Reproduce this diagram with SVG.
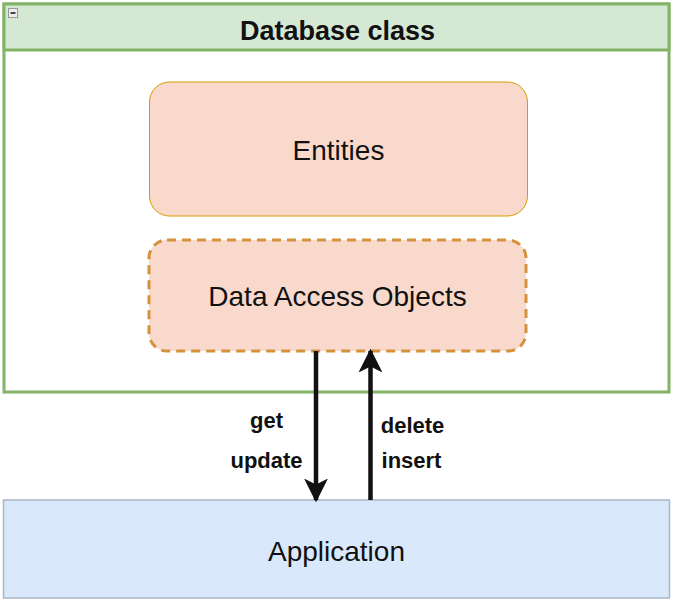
<svg xmlns="http://www.w3.org/2000/svg" width="673" height="603" viewBox="0 0 673 603">
<defs>
<style>
.t{font-family:"Liberation Sans",Arial,sans-serif;fill:#111;text-anchor:middle}
.big{font-size:28px}
.lbl{font-size:22px;font-weight:bold}
.conn{stroke:#111;stroke-width:4.5;fill:none}
</style>
<marker id="ah" viewBox="0 0 10 10" refX="9" refY="5" markerWidth="5.3" markerHeight="5.3" markerUnits="strokeWidth" orient="auto">
<path d="M0,0 L10,5 L0,10 L2.5,5 Z" fill="#111"/>
</marker>
</defs>
<rect width="673" height="603" fill="#fff"/>
<g id="database-class">
<rect x="4" y="4" width="665" height="388" fill="#fff" stroke="#82b366" stroke-width="3"/>
<rect x="4" y="4" width="665" height="46" fill="#d5e8d4" stroke="#82b366" stroke-width="3"/>
<rect x="8.5" y="8.5" width="9" height="9" fill="#eee" stroke="#999" stroke-width="1"/>
<line x1="10.5" y1="13" x2="15.5" y2="13" stroke="#111" stroke-width="1.5"/>
<text class="t" x="337.5" y="40" font-size="27" font-weight="bold">Database class</text>
</g>
<g id="entities">
<rect x="149.5" y="82" width="378" height="134" rx="20" fill="#fad9cd" stroke="#d79b00" stroke-width="1"/>
<text class="t big" x="338.5" y="160">Entities</text>
</g>
<g id="dao">
<rect x="149" y="240" width="377" height="111" rx="18" fill="#fad9cd" stroke="#d6913c" stroke-width="3" stroke-dasharray="9 6"/>
<text class="t big" x="337.5" y="306">Data Access Objects</text>
</g>
<g id="application">
<rect x="3.5" y="500" width="666" height="98" fill="#dae8fc" stroke="#a9b7c6" stroke-width="1.5"/>
<text class="t big" x="336.5" y="561">Application</text>
</g>
<g id="connectors">
<line class="conn" x1="316" y1="351" x2="316" y2="500" marker-end="url(#ah)"/>
<line class="conn" x1="370.5" y1="500" x2="370.5" y2="351" marker-end="url(#ah)"/>
<text class="t lbl" x="266.5" y="428">get</text>
<text class="t lbl" x="266.5" y="468">update</text>
<text class="t lbl" x="412.5" y="433">delete</text>
<text class="t lbl" x="411.5" y="468">insert</text>
</g>
</svg>
